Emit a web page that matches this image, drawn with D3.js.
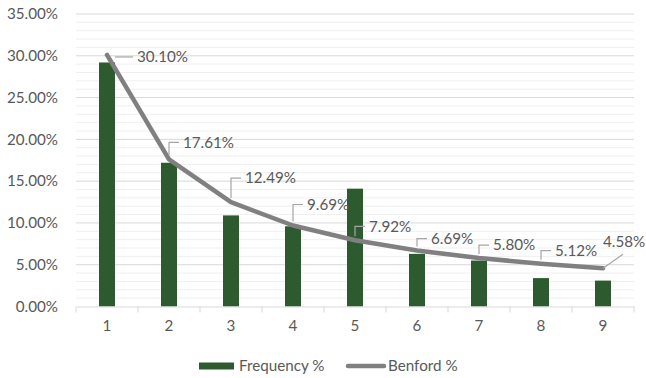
<!DOCTYPE html>
<html><head><meta charset="utf-8">
<script src="https://cdn.jsdelivr.net/npm/d3@7"></script>
<style>body{margin:0;background:#fff}svg{display:block}text{font-family:Lato,"Open Sans",sans-serif}</style>
</head><body><svg id="c" width="646" height="378"></svg>
<script>
const categories = ["1","2","3","4","5","6","7","8","9"];
const frequency = [29.2, 17.2, 10.9, 9.6, 14.1, 6.3, 5.5, 3.4, 3.1];
const benford = [30.10, 17.61, 12.49, 9.69, 7.92, 6.69, 5.80, 5.12, 4.58];
const yTicks = [0, 5, 10, 15, 20, 25, 30, 35];
const seriesNames = ["Frequency %", "Benford %"];
// label leader layout (dy from point)
const labelDy = [0, -17, -24, -21, -14, -12, -13, -13, -15];

const svg = d3.select("#c");
const L = 76, R = 634, T = 14, B = 306.5;
const x = d3.scaleBand().domain(categories).range([L, R]);
const y = d3.scaleLinear().domain([0, 35]).range([B, T]);
const fs = 15.2;

// minor grid
svg.append("g").selectAll("line").data(d3.range(0, 36, 1).filter(v => v % 5 !== 0))
  .join("line").attr("x1", L).attr("x2", R).attr("y1", d => y(d)).attr("y2", d => y(d))
  .attr("stroke", "#efefef").attr("stroke-width", 1);
// major grid
svg.append("g").selectAll("line").data(yTicks.filter(v => v > 0))
  .join("line").attr("x1", L).attr("x2", R).attr("y1", d => y(d)).attr("y2", d => y(d))
  .attr("stroke", "#d9d9d9").attr("stroke-width", 1);

// y labels
svg.append("g").selectAll("text").data(yTicks).join("text")
  .attr("x", 58).attr("y", d => y(d)).attr("dy", "0.35em").attr("text-anchor", "end")
  .attr("font-size", fs).attr("fill", "#595959").text(d => d.toFixed(2) + "%");

// bars
const bw = 16;
svg.append("g").selectAll("rect").data(frequency).join("rect")
  .attr("x", (d, i) => x(categories[i]) + x.bandwidth() / 2 - bw / 2)
  .attr("width", bw)
  .attr("y", d => y(d)).attr("height", d => B - y(d))
  .attr("fill", "#2e5a30");

// x axis
const xa = svg.append("g").attr("transform", `translate(0,${B})`)
  .call(d3.axisBottom(x).tickSize(0).tickPadding(14));
xa.select(".domain").attr("stroke", "#d9d9d9");
xa.selectAll("text").attr("font-size", fs).attr("fill", "#595959").attr("font-family", "Lato");
svg.append("g").selectAll("line").data(d3.range(categories.length + 1)).join("line")
  .attr("x1", i => L + i * x.step()).attr("x2", i => L + i * x.step())
  .attr("y1", B).attr("y2", B + 6).attr("stroke", "#d9d9d9");

// benford line
const cx = i => x(categories[i]) + x.bandwidth() / 2;
svg.append("path").datum(benford)
  .attr("d", d3.line().x((d, i) => cx(i)).y(d => y(d)))
  .attr("fill", "none").attr("stroke", "#808080").attr("stroke-width", 4.5)
  .attr("stroke-linecap", "round").attr("stroke-linejoin", "round");

// labels with leaders
const lg = svg.append("g");
benford.forEach((v, i) => {
  const px = cx(i), py = y(v);
  let path, tx, ty;
  if (i === 0) {
    ty = py + 2; path = `M${px + 8},${ty} H${px + 26}`; tx = px + 30;
  } else if (i === 8) {
    ty = py - 27; path = `M${px},${py} L${px + 20},${py - 14}`; tx = px;
  } else {
    ty = py + labelDy[i];
    path = `M${px},${py - 4} V${ty} H${px + 10}`; tx = px + 14;
  }
  lg.append("path").attr("d", path).attr("fill", "none").attr("stroke", "#a6a6a6").attr("stroke-width", 1.2);
  lg.append("text").attr("x", tx).attr("y", ty).attr("dy", "0.35em")
    .attr("font-size", fs).attr("fill", "#595959").text(v.toFixed(2) + "%");
});

// legend
const leg = svg.append("g");
leg.append("rect").attr("x", 199).attr("y", 362.5).attr("width", 35).attr("height", 7).attr("fill", "#2e5a30");
leg.append("text").attr("x", 239).attr("y", 366).attr("dy", "0.35em").attr("font-size", fs)
  .attr("fill", "#595959").text(seriesNames[0]);
leg.append("line").attr("x1", 348).attr("x2", 384).attr("y1", 366).attr("y2", 366)
  .attr("stroke", "#808080").attr("stroke-width", 4.5).attr("stroke-linecap", "round");
leg.append("text").attr("x", 388).attr("y", 366).attr("dy", "0.35em").attr("font-size", fs)
  .attr("fill", "#595959").text(seriesNames[1]);
</script></body></html>
